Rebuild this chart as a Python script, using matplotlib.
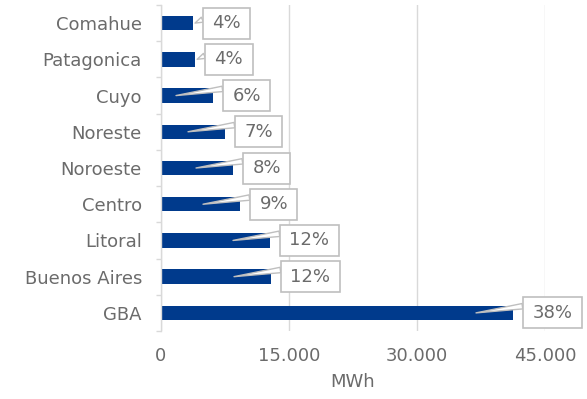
import matplotlib
matplotlib.use("Agg")
import matplotlib.pyplot as plt
import matplotlib.transforms as mtransforms
from matplotlib.path import Path
from matplotlib.ticker import FuncFormatter, FixedLocator

# ---- data (bottom to top) ----
regions = ["GBA", "Buenos Aires", "Litoral", "Centro", "Noroeste",
           "Noreste", "Cuyo", "Patagonica", "Comahue"]
mwh = [41250, 12890, 12773, 9258, 8438, 7500, 6094, 4000, 3750]
pct_labels = ["38%", "12%", "12%", "9%", "8%", "7%", "6%", "4%", "4%"]
x_ticks = [0, 15000, 30000, 45000]

BAR = "#003a8c"
TXT = "#6b6b6b"
GRID = "#d9d9d9"
BOX_EC = "#bfbfbf"
DPI = 100

plt.rcParams["font.family"] = ["DejaVu Sans"]
fig = plt.figure(figsize=(5.87, 3.99), dpi=DPI)
ax = fig.add_axes([161/587, 1-331/399, 384/587, 326/399])

ypos = list(range(len(regions)))
ax.barh(ypos, mwh, height=0.4, color=BAR, zorder=2)

ax.set_xlim(0, 45000)
ax.set_ylim(-0.5, len(regions) - 0.5)
ax.set_xticks(x_ticks)
ax.xaxis.set_major_formatter(FuncFormatter(lambda v, p: f"{int(v):,}".replace(",", ".")))
ax.set_yticks(ypos)
ax.set_yticklabels(regions)
ax.yaxis.set_minor_locator(FixedLocator([i - 0.5 for i in range(len(regions) + 1)]))

ax.tick_params(axis="x", length=0, pad=11.5, labelsize=13, labelcolor=TXT)
ax.tick_params(axis="y", which="major", length=0, pad=13.7, labelsize=13, labelcolor=TXT)
ax.tick_params(axis="y", which="minor", length=3.6, width=1, color=GRID)

ax.grid(axis="x", color=GRID, linewidth=1, zorder=0)
ax.set_axisbelow(True)
for s in ["top", "right", "bottom"]:
    ax.spines[s].set_visible(False)
ax.spines["left"].set_color(GRID)
ax.spines["left"].set_linewidth(1)

ax.set_xlabel("MWh", fontsize=13, color=TXT, labelpad=6)


def callout_box(x0, y0, width, height, mutation_size):
    padx = 0.52 * mutation_size
    pady = 0.36 * mutation_size
    x0 -= padx
    y0 -= pady
    w = width + 2 * padx
    h = height + 2 * pady
    verts = [(x0, y0), (x0 + w, y0), (x0 + w, y0 + h), (x0, y0 + h), (x0, y0)]
    codes = [Path.MOVETO, Path.LINETO, Path.LINETO, Path.LINETO, Path.CLOSEPOLY]
    return Path(verts, codes)


fs_px = 13 * DPI / 72.0
padx_px = 0.52 * fs_px
x0_disp = ax.transData.transform((0, 0))[0]
for y, v, lab in zip(ypos, mwh, pct_labels):
    w_px = ax.transData.transform((v, 0))[0] - x0_disp
    back = 37 if w_px > 45 else -2
    tr = ax.transData + mtransforms.ScaledTranslation(-back / DPI, 0, fig.dpi_scale_trans)
    ax.annotate(lab, xy=(v, y), xycoords=tr,
                xytext=(back + 10 + padx_px, 0), textcoords="offset pixels",
                ha="left", va="center", fontsize=13, color=TXT, zorder=5,
                bbox=dict(boxstyle=callout_box, fc="white", ec=BOX_EC, lw=1.2),
                arrowprops=dict(arrowstyle="wedge,tail_width=0.3,shrink_factor=0.5",
                                fc="white", ec=BOX_EC, lw=1, relpos=(0, 0.95),
                                shrinkA=0, shrinkB=0))

fig.savefig("out.png", dpi=DPI)
